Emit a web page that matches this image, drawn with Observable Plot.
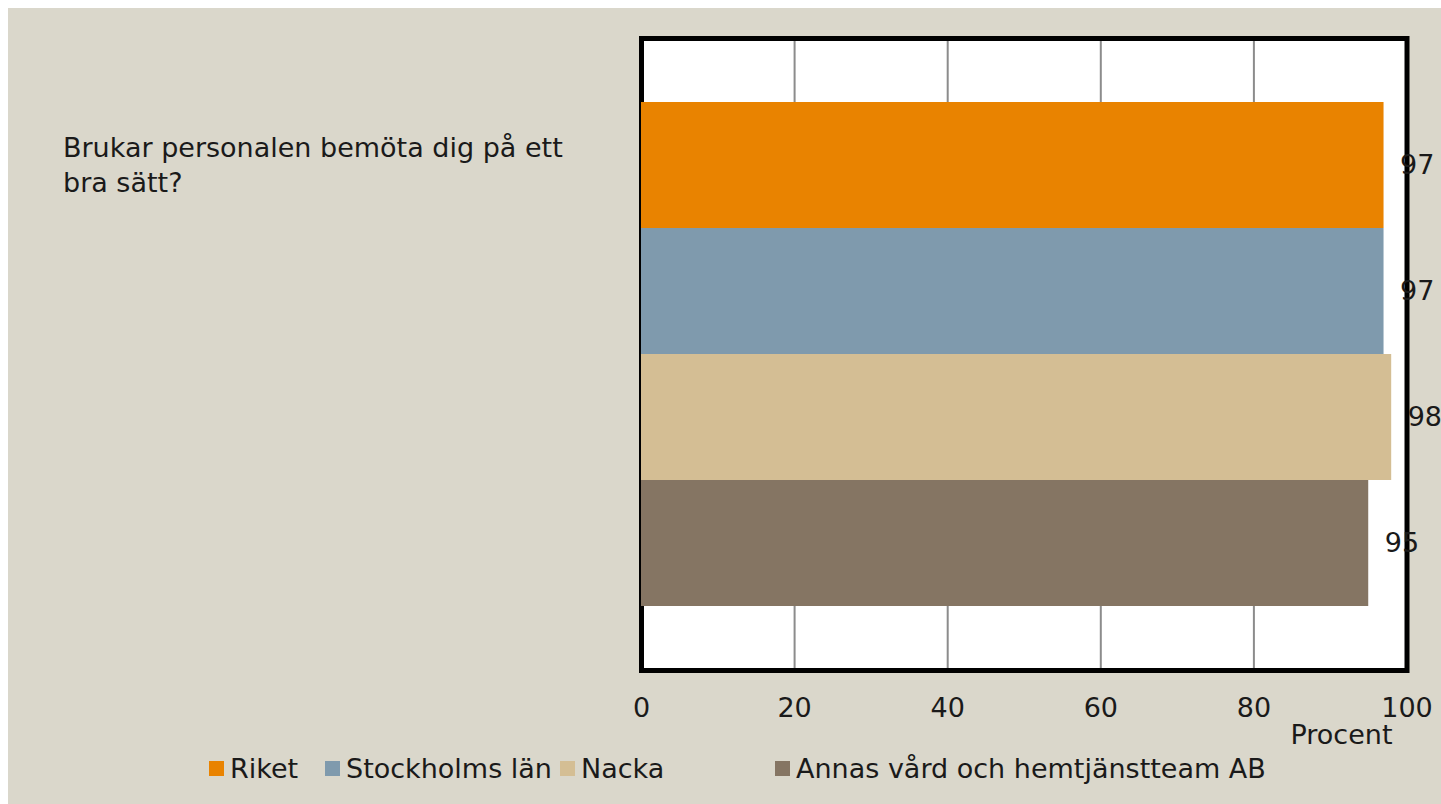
<!DOCTYPE html>
<html>
<head>
<meta charset="utf-8">
<script src="https://cdn.jsdelivr.net/npm/d3@7"></script>
<script src="https://cdn.jsdelivr.net/npm/@observablehq/plot@0.6"></script>
<style>
  html, body { margin: 0; padding: 0; background: #ffffff; }
  body { width: 1441px; height: 804px; overflow: hidden; position: relative; font-family: "DejaVu Sans", sans-serif; }
  #wrap { position: absolute; left: 8px; top: 8px; width: 1433px; height: 796px; background: #DAD7CB; }
  #chart { position: absolute; left: 0; top: 0; }
  #question { position: absolute; left: 55px; top: 122px; width: 525px; font-size: 27px; line-height: 35px; color: #1a1a1a; }
  .leg { position: absolute; top: 745px; height: 31px; display: flex; align-items: center; gap: 6px; font-size: 27px; line-height: 31px; color: #1a1a1a; white-space: nowrap; }
  .sw { width: 15px; height: 15px; flex: none; }
</style>
</head>
<body>
<div id="wrap">
  <div id="chart"></div>
  <div id="question"></div>
  <div id="legend"></div>
</div>
<script>
// ---- data ----
const question = "Brukar personalen bemöta dig på ett bra sätt?";
const series = ["Riket", "Stockholms län", "Nacka", "Annas vård och hemtjänstteam AB"];
const values = [97, 97, 98, 95];
const colors = ["#E98300", "#7F9AAD", "#D4BE94", "#857563"];
const xTicks = [0, 20, 40, 60, 80, 100];
const xLabel = "Procent";

// ---- build ----
const rows = series.map((s, i) => ({series: s, value: values[i]}));
const W = 1433, H = 750;

const chart = Plot.plot({
  width: W,
  height: H,
  marginLeft: 633,
  marginRight: 34.5,
  marginTop: 30,
  marginBottom: H - 662,
  style: {background: "transparent", fontFamily: "DejaVu Sans, sans-serif", color: "#1a1a1a"},
  x: {domain: [0, 100], ticks: xTicks},
  y: {type: "band", domain: series, paddingInner: 0, paddingOuter: 0.5, axis: null},
  color: {domain: series, range: colors},
  marks: [
    Plot.frame({fill: "white", stroke: "none"}),
    Plot.gridX(xTicks, {stroke: "#8C8C8C", strokeOpacity: 1, strokeWidth: 2}),
    Plot.frame({stroke: "black", strokeWidth: 5}),
    Plot.barX(rows, {x: "value", y: "series", fill: "series"}),
    Plot.text(rows, {x: "value", y: "series", text: d => String(d.value), dx: 16, textAnchor: "start", fontSize: 27, fill: "#1a1a1a"}),
    Plot.axisX(xTicks, {tickSize: 0, tickPadding: 27, fontSize: 27, tickFormat: d => String(d), fill: "#1a1a1a", label: null}),
    Plot.text([xLabel], {frameAnchor: "bottom-right", textAnchor: "end", dx: -14.5, dy: 73, fontSize: 27, fill: "#1a1a1a"})
  ]
});
document.getElementById("chart").appendChild(chart);

document.getElementById("question").textContent = question;

const legendX = [201, 317, 552, 767];
const legend = document.getElementById("legend");
series.forEach((s, i) => {
  const item = document.createElement("div");
  item.className = "leg";
  item.style.left = legendX[i] + "px";
  const sw = document.createElement("span");
  sw.className = "sw";
  sw.style.background = colors[i];
  const t = document.createElement("span");
  t.textContent = s;
  item.appendChild(sw);
  item.appendChild(t);
  legend.appendChild(item);
});
</script>
</body>
</html>
